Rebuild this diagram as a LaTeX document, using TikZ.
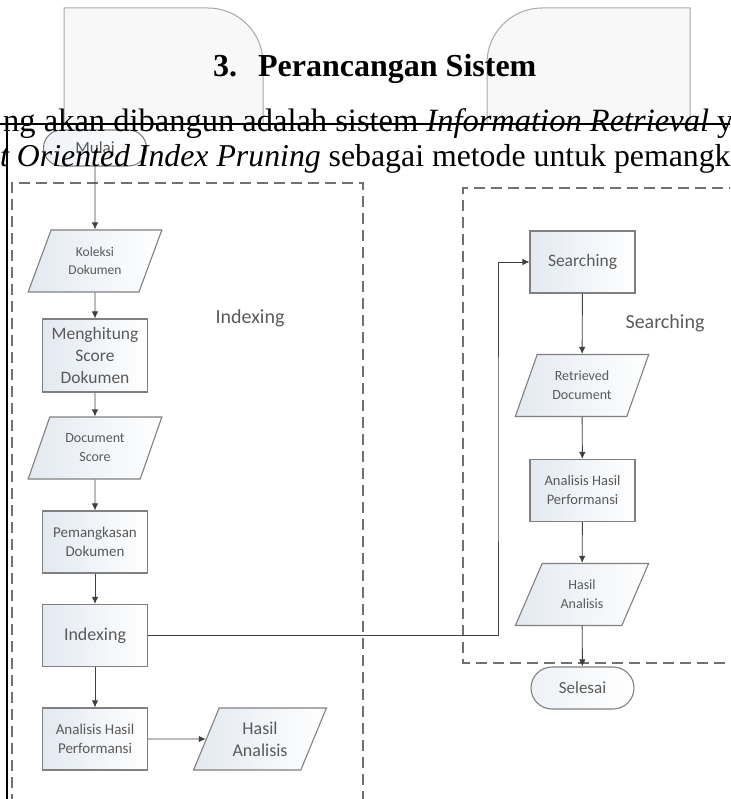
\documentclass[tikz,border=0pt]{standalone}
\usepackage{fontspec}
\setmainfont{Liberation Serif}
\newfontfamily\calibri{Carlito}
\usetikzlibrary{shapes.geometric, shapes.misc, arrows.meta}

\definecolor{linegray}{HTML}{808080}
\definecolor{txtgray}{HTML}{5A5A5A}
\definecolor{dashgray}{HTML}{707070}
\definecolor{tabgray}{HTML}{A8A8A8}
\definecolor{tabfill}{HTML}{F8F8F8}
\definecolor{boxblue}{HTML}{E3E9F0}
\definecolor{arrowgray}{HTML}{404040}

\newcommand{\cfont}[2]{\calibri\fontsize{#1}{#2}\selectfont}

\tikzset{
  shapeline/.style={draw=linegray, line width=1.1pt},
  procbox/.style={rectangle, shapeline, minimum width=105pt, minimum height=62pt,
    left color=boxblue, right color=white, text=txtgray, align=center, inner sep=1pt},
  iobox/.style={trapezium, trapezium left angle=64, trapezium right angle=116,
    trapezium stretches=true, shapeline, minimum width=134pt, minimum height=62pt,
    left color=boxblue, right color=white, text=txtgray, align=center, inner sep=1pt},
  termbox/.style={rounded rectangle, shapeline, minimum width=105pt, minimum height=42pt,
    left color=boxblue!60, right color=white, text=txtgray, inner sep=1pt},
  flowarrow/.style={draw=arrowgray, line width=0.9pt, -{Latex[length=7pt,width=6.5pt]}},
  groupframe/.style={draw=dashgray, line width=1.3pt, dash pattern=on 11pt off 6pt},
  grouplabel/.style={text=txtgray, font=\cfont{20}{24}},
  bodytext/.style={anchor=base west, inner sep=0pt, font=\fontsize{32}{38}\selectfont}
}

\begin{document}
\begin{tikzpicture}[x=1pt, y=-1pt]
\useasboundingbox (0,0) rectangle (730,799);
\clip (0,0) rectangle (730,799);

% tabs behind the heading
\draw[draw=tabgray, fill=tabfill, line width=1pt] (64,124) -- (64,8) -- (208,8) arc[start angle=270, end angle=360, radius=55] -- (263,124) -- cycle;
\draw[draw=tabgray, fill=tabfill, line width=1pt] (487,124) -- (487,63) arc[start angle=180, end angle=270, radius=55] -- (690,8) -- (690,124) -- cycle;

% group frames
\draw[groupframe] (12,805) -- (12,183) -- (363,183) -- (363,805);
\draw[groupframe] (740,188) -- (463,188) -- (463,663) -- (740,663);
\node[grouplabel] (idxlabel) at (250,318) {Indexing};
\node[grouplabel] (srchlabel) at (665,323) {Searching};

% indexing column
\node[termbox, minimum height=36pt, font=\cfont{17}{20}] (mulai) at (95,148) {Mulai};
\node[iobox, font=\cfont{13.5}{18}] (koleksi) at (95,261) {Koleksi\\Dokumen};
\node[procbox, minimum height=73pt, font=\cfont{17.5}{22}] (hitung) at (95,355.5) {Menghitung\\Score\\Dokumen};
\node[iobox, font=\cfont{14}{19}] (docscore) at (95,448) {Document\\Score};
\node[procbox, font=\cfont{15}{19}] (pangkas) at (95,542) {Pemangkasan\\Dokumen};
\node[procbox, font=\cfont{18}{22}] (indexing) at (95,635.5) {Indexing};
\node[procbox, font=\cfont{15}{19}] (analisisA) at (95,739) {Analisis Hasil\\Performansi};
\node[iobox, font=\cfont{18}{22}] (hasilA) at (260,739) {Hasil\\Analisis};

% searching column
\node[procbox, font=\cfont{17.5}{22}] (searching) at (582.5,262) {Searching};
\node[iobox, font=\cfont{14}{19}] (retrieved) at (582,385.5) {Retrieved\\Document};
\node[procbox, font=\cfont{14.5}{19}] (analisisB) at (582.5,490.5) {Analisis Hasil\\Performansi};
\node[iobox, font=\cfont{14}{19}] (hasilB) at (582,594.5) {Hasil\\Analisis};
\node[termbox, font=\cfont{17}{20}] (selesai) at (582.5,688) {Selesai};

% connectors
\draw[flowarrow] (mulai) -- (koleksi);
\draw[flowarrow] (koleksi) -- (hitung);
\draw[flowarrow] (hitung) -- (docscore);
\draw[flowarrow] (docscore) -- (pangkas);
\draw[flowarrow] (pangkas) -- (indexing);
\draw[flowarrow] (indexing) -- (analisisA);
\draw[flowarrow] (analisisA) -- (hasilA);
\coordinate (turn) at (498,450);
\draw[flowarrow] (indexing) -| (turn) |- (searching);
\draw[flowarrow] (searching) -- (retrieved);
\draw[flowarrow] (retrieved) -- (analisisB);
\draw[flowarrow] (analisisB) -- (hasilB);
\draw[flowarrow] (hasilB) -- (selesai);

% page text on top
\node[anchor=base west, inner sep=0pt, font=\bfseries\fontsize{32}{38}\selectfont] (judul) at (213,77) {3.\hspace{21pt}Perancangan Sistem};
\node[bodytext, font=\fontsize{32.5}{38}\selectfont] (baris1) at (3,132) {ng akan dibangun adalah sistem \textit{Information Retrieval} y};
\node[bodytext, font=\fontsize{31.8}{38}\selectfont] (baris2) at (0,167) {\textit{t Oriented Index Pruning} sebagai metode untuk pemangk};
\draw[black, line width=1.3pt] (0,124) -- (730,124);
\draw[black, line width=1.5pt] (7,124) -- (7,805);
\end{tikzpicture}
\end{document}
